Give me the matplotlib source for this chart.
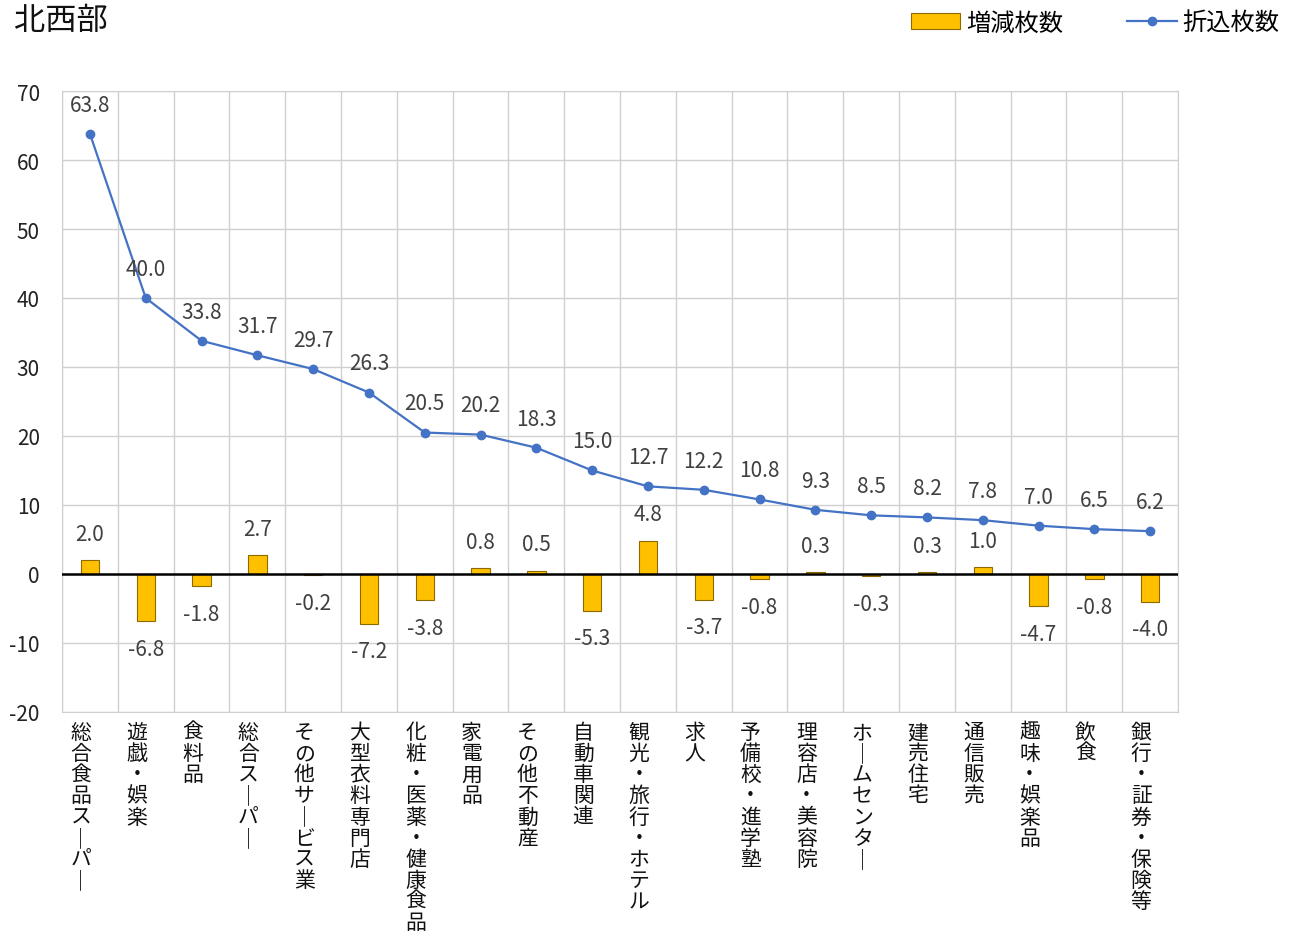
import matplotlib
matplotlib.use("Agg")
import matplotlib.pyplot as plt
import matplotlib.transforms as mtransforms
import numpy as np

plt.rcParams['font.family'] = ['Noto Sans CJK JP', 'DejaVu Sans']

categories = ["総合食品スーパー", "遊戯・娯楽", "食料品", "総合スーパー", "その他サービス業",
              "大型衣料専門店", "化粧・医薬・健康食品", "家電用品", "その他不動産", "自動車関連",
              "観光・旅行・ホテル", "求人", "予備校・進学塾", "理容店・美容院", "ホームセンター",
              "建売住宅", "通信販売", "趣味・娯楽品", "飲食", "銀行・証券・保険等"]
orikomi = [63.8, 40.0, 33.8, 31.7, 29.7, 26.3, 20.5, 20.2, 18.3, 15.0,
           12.7, 12.2, 10.8, 9.3, 8.5, 8.2, 7.8, 7.0, 6.5, 6.2]
zougen = [2.0, -6.8, -1.8, 2.7, -0.2, -7.2, -3.8, 0.8, 0.5, -5.3,
          4.8, -3.7, -0.8, 0.3, -0.3, 0.3, 1.0, -4.7, -0.8, -4.0]
yticks = [-20, -10, 0, 10, 20, 30, 40, 50, 60, 70]

fig = plt.figure(figsize=(12.95, 9.37), dpi=100)
ax = fig.add_axes([0.0479, 0.2391, 0.8618, 0.6627])

x = np.arange(len(categories))
bars = ax.bar(x, zougen, width=0.33, color="#FFC000", edgecolor="#8C6A00", linewidth=0.8,
              label="増減枚数", zorder=3)
line, = ax.plot(x, orikomi, color="#4472C4", linewidth=1.6, marker="o", markersize=6,
                label="折込枚数", zorder=4)

ax.axhline(0, color="black", linewidth=1.8, zorder=5)

ax.set_xlim(-0.5, len(categories) - 0.5)
ax.set_ylim(-20, 70)
ax.set_yticks(yticks)
ax.set_yticklabels([str(v) for v in yticks], fontsize=15, color="#222222")
ax.yaxis.grid(True, color="#D0D0D0", linewidth=1.0, zorder=0)
ax.set_xticks(x)
ax.set_xticklabels([])

def vert(s):
    return "\n".join("｜" if c == "ー" else c for c in s)

label_tr = mtransforms.blended_transform_factory(ax.transData, ax.transAxes) + \
    mtransforms.ScaledTranslation(-9 / 100, -9 / 100, fig.dpi_scale_trans)
for xi, c in zip(x, categories):
    ax.text(xi, 0, vert(c), transform=label_tr, fontsize=15, linespacing=0.95,
            ha="center", va="top", color="#111111", clip_on=False)

ax.set_xticks(np.arange(-0.5, len(categories), 1), minor=True)
ax.xaxis.grid(True, which="minor", color="#D0D0D0", linewidth=1.0, zorder=0)
ax.tick_params(axis="both", which="both", length=0)
ax.tick_params(axis="y", pad=16)
for sp in ["top", "right", "left", "bottom"]:
    ax.spines[sp].set_color("#D0D0D0")
ax.set_axisbelow(True)

for xi, v in zip(x, orikomi):
    ax.annotate(f"{v:.1f}", (xi, v), xytext=(0, 21), textcoords="offset points",
                ha="center", va="center", fontsize=15, color="#404040", zorder=6)
for xi, v in zip(x, zougen):
    off = 19 if v >= 0 else -20
    ax.annotate(f"{v:.1f}", (xi, v), xytext=(0, off), textcoords="offset points",
                ha="center", va="center", fontsize=15, color="#404040", zorder=6)

fig.text(0.011, 0.978, "北西部", fontsize=22.5, ha="left", va="center", color="#111111")

fig.legend(handles=[bars, line], labels=["増減枚数", "折込枚数"], loc="center right",
           bbox_to_anchor=(1.005, 0.975), ncol=2, frameon=False, fontsize=17.5,
           handlelength=2.05, handleheight=0.6, handletextpad=0.25, columnspacing=2.6)

fig.savefig("out.png", dpi=100)
